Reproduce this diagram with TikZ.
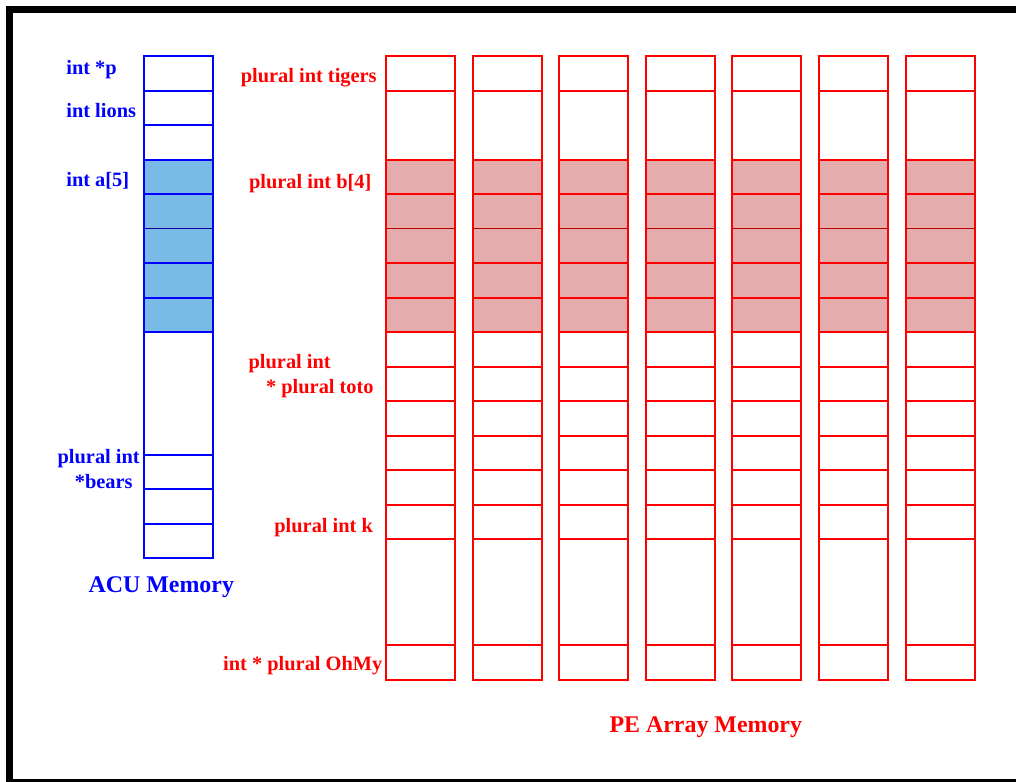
\documentclass[tikz,border=0pt]{standalone}
\usepackage{fontspec}
\setmainfont{Liberation Serif}
\usepackage{tikz}

\definecolor{acufill}{RGB}{122,186,230}
\definecolor{pefill}{RGB}{228,172,172}

\begin{document}
\begin{tikzpicture}[x=0.02cm, y=-0.02cm,
	acu/.style={draw=blue, line width=0.04cm},
	pe/.style={draw=red, line width=0.04cm},
	midline/.style={line width=0.02cm},
	lbl/.style={inner sep=0, font=\fontsize{11.6}{14}\selectfont\bfseries},
	title/.style={inner sep=0, font=\fontsize{13.6}{16}\selectfont\bfseries}]

	\useasboundingbox (0, 0) rectangle (1016, 781);
	\clip (0, 0) rectangle (1016, 781);
	\draw [line width=0.14cm] (9.5, 9.5) rectangle (1030, 782.5);

	% ACU memory
	\fill [acufill] (144, 159.5) rectangle (212.5, 332);
	\draw [acu] (144, 56) rectangle (212.5, 558);
	\foreach \y in {90.5, 125, 159.5, 194, 263, 297.5, 332, 454.5, 489, 523.5}
		\draw [acu] (144, \y) -- (212.5, \y);
	\draw [blue!60!black, midline] (144, 228.5) -- (212.5, 228.5);

	\node [lbl, blue, anchor=base west] (p) at (66, 74) {int *p};
	\node [lbl, blue, anchor=base west] (lions) at (66, 117) {int lions};
	\node [lbl, blue, anchor=base west] (a) at (66, 186) {int a[5]};
	\node [lbl, blue, anchor=base] (bearsA) at (98.7, 463) {plural int};
	\node [lbl, blue, anchor=base] (bearsB) at (103.7, 488) {*bears};
	\node [title, blue, anchor=base] (acu) at (161.3, 592.7) {ACU Memory};

	%%%%%%%%%%%%%%%%%%%%%%%%%%%%%%%%%%%%%%%%%%%%%%%%%%%%%%%%%%%%%%%%

	% PE array memory, 7 columns
	\foreach \c in {0, ..., 6} {
		\fill [pefill] (386+86.6*\c, 159.5) rectangle (455+86.6*\c, 332);
		\draw [pe] (386+86.6*\c, 56) rectangle (455+86.6*\c, 679.5);
		\foreach \y in {90.5, 159.5, 194, 263, 297.5, 332, 366.5, 401, 435.5, 470, 504.5, 539, 645}
			\draw [pe] (386+86.6*\c, \y) -- (455+86.6*\c, \y);
		\draw [red!75!black, midline] (386+86.6*\c, 228.5) -- (455+86.6*\c, 228.5);
	}

	\node [lbl, red, anchor=base east] (tigers) at (377, 82.7) {plural int tigers};
	\node [lbl, red, anchor=base east] (b) at (371.7, 188) {plural int b[4]};
	\node [lbl, red, anchor=base west] (totoA) at (248.3, 368) {plural int};
	\node [lbl, red, anchor=base east] (totoB) at (374, 393) {* plural toto};
	\node [lbl, red, anchor=base east] (k) at (373.3, 532.7) {plural int k};
	\node [lbl, red, anchor=base east] (ohmy) at (382.7, 670.7) {int * plural OhMy};
	\node [title, red, anchor=base] (pe) at (705.8, 732) {PE Array Memory};

\end{tikzpicture}
\end{document}
